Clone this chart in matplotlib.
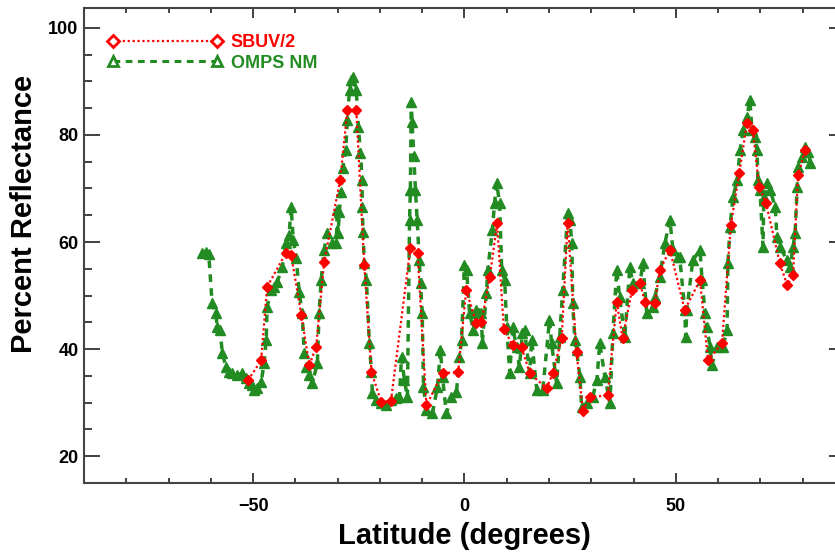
import matplotlib.pyplot as plt
from matplotlib.lines import Line2D
import numpy as np

# OMPS NM (green triangles)
omps_lat = [-62.0, -61.2, -60.5, -59.7, -58.8, -58.5, -57.8, -57.3, -56.4, -55.7,
            -55.0, -53.8, -52.6, -51.7, -50.9, -50.2, -49.8, -49.1, -48.1, -47.4,
            -46.9, -46.7, -45.7, -45.0, -44.3, -43.1, -42.2, -41.5, -41.0, -40.5,
            -39.8, -39.1, -38.4, -37.9, -37.4, -36.7, -36.0, -34.8, -34.4, -33.9,
            -33.2, -32.5, -31.3, -30.3, -30.1, -29.9, -29.6, -29.2, -28.8, -28.1,
            -27.7, -27.2, -26.8, -26.3, -25.6, -25.1, -24.6, -24.2, -24.2, -24.0,
            -23.7, -23.2, -22.5, -22.0, -21.8, -20.9, -19.7, -18.5, -17.3, -16.1,
            -15.4, -14.9, -14.2, -13.5, -13.0, -12.8, -12.6, -12.4, -12.0, -11.6,
            -11.2, -10.7, -10.4, -10.0, -9.7, -9.0, -7.6, -6.4, -5.7, -5.2,
            -4.3, -3.1, -1.9, -1.2, -0.7, 0.0, 0.5, 1.2, 2.1, 2.8,
            3.5, 4.0, 4.2, 5.2, 5.5, 6.6, 7.1, 7.6, 8.3, 8.8,
            9.5, 10.0, 10.7, 11.4, 12.3, 13.0, 13.7, 14.2, 15.4, 15.9,
            17.1, 18.5, 20.1, 20.6, 21.8, 22.5, 23.2, 24.4, 24.9, 25.4,
            25.6, 26.1, 26.5, 27.3, 27.7, 28.9, 30.3, 31.3, 32.0, 33.2,
            34.4, 35.1, 36.0, 36.7, 37.9, 39.1, 39.8, 41.5, 42.2, 43.1,
            44.5, 45.0, 46.2, 47.4, 48.6, 49.3, 50.5, 50.9, 52.1, 52.3,
            52.6, 54.0, 55.7, 56.2, 56.9, 57.3, 58.1, 58.5, 59.7, 61.1,
            62.1, 62.3, 62.8, 63.5, 64.5, 65.2, 65.9, 66.8, 67.5, 68.0,
            68.7, 69.2, 69.4, 69.9, 70.6, 70.8, 71.6, 72.3, 73.5, 73.9,
            74.6, 76.3, 77.0, 77.7, 78.2, 78.7, 78.9, 79.9, 80.6, 81.3,
            81.8]
omps_val = [58.0, 58.2, 57.8, 48.6, 46.7, 44.1, 43.6, 39.3, 36.6, 35.7,
            35.5, 35.1, 35.5, 34.6, 33.6, 33.3, 32.3, 32.7, 33.8, 37.4,
            41.7, 47.9, 51.0, 51.6, 52.5, 55.3, 59.8, 61.3, 66.5, 60.4,
            57.0, 50.7, 46.7, 39.3, 36.6, 35.1, 33.6, 37.4, 46.7, 52.9,
            58.5, 61.7, 59.8, 59.8, 66.0, 61.7, 65.6, 69.3, 73.8, 77.2,
            82.8, 88.4, 90.3, 90.8, 88.4, 81.5, 76.6, 71.6, 66.5, 61.9,
            56.0, 52.9, 41.1, 35.7, 31.8, 30.5, 29.9, 29.5, 30.5, 30.8,
            31.0, 38.5, 34.2, 31.0, 64.1, 69.7, 86.2, 82.5, 76.0, 69.7,
            64.1, 56.6, 52.3, 46.7, 32.9, 28.6, 28.0, 32.9, 39.8, 34.8,
            28.0, 31.0, 32.0, 38.5, 41.7, 55.8, 54.8, 46.7, 43.6, 47.3,
            46.7, 46.7, 41.1, 50.5, 54.8, 62.2, 67.3, 71.0, 67.3, 54.8,
            52.9, 44.1, 35.5, 44.1, 40.4, 36.6, 43.0, 43.6, 35.5, 41.7,
            32.3, 32.3, 45.4, 41.1, 33.6, 42.2, 51.0, 65.4, 64.1, 59.8,
            48.6, 41.7, 39.8, 34.8, 29.2, 29.9, 31.0, 34.2, 41.1, 34.8,
            29.9, 43.0, 54.8, 49.7, 42.2, 55.3, 52.3, 52.3, 56.0, 46.7,
            47.9, 49.7, 53.5, 59.8, 64.1, 58.5, 57.2, 57.2, 47.3, 42.2,
            47.3, 56.6, 58.5, 52.9, 46.7, 44.1, 40.4, 37.0, 40.4, 40.4,
            43.6, 56.0, 62.8, 68.4, 71.6, 77.2, 80.9, 83.4, 86.5, 80.9,
            79.6, 77.2, 71.6, 69.7, 59.1, 68.4, 71.0, 69.7, 66.5, 60.9,
            59.1, 56.6, 55.3, 59.1, 61.7, 70.3, 74.0, 75.9, 77.8, 76.8,
            74.8]

# SBUV/2 (red diamonds)
sbuv_lat = [-51.2, -48.1, -46.7, -42.2, -41.0, -38.6, -36.7, -35.1, -33.2, -29.4,
            -27.7, -25.6, -23.7, -22.0, -19.7, -17.4, -12.8, -11.1, -9.0, -5.2,
            -1.5, 0.4, 2.8, 4.0, 6.0, 7.7, 9.3, 11.4, 13.5, 15.4,
            19.4, 20.9, 23.0, 24.4, 26.5, 28.0, 29.6, 33.9, 36.0, 37.4,
            39.6, 41.5, 42.7, 45.0, 46.2, 48.6, 52.1, 55.7, 57.6, 60.9,
            63.0, 65.0, 66.8, 68.2, 69.7, 71.3, 74.6, 76.3, 77.7, 78.9,
            80.6]
sbuv_val = [34.2, 37.9, 51.6, 58.0, 57.6, 46.4, 37.0, 40.4, 56.3, 71.6,
            84.7, 84.7, 55.7, 35.7, 30.1, 30.3, 58.9, 58.0, 29.5, 35.5,
            35.7, 51.0, 44.9, 45.0, 53.5, 63.5, 43.8, 40.7, 40.4, 35.5,
            32.7, 35.5, 42.0, 63.6, 39.4, 28.5, 31.0, 31.4, 48.8, 42.0,
            51.0, 52.3, 48.8, 48.6, 54.8, 58.5, 47.3, 52.9, 37.9, 41.1,
            63.2, 72.9, 82.2, 80.9, 70.3, 67.3, 56.0, 52.0, 53.8, 72.5,
            77.2]

red = '#ff0000'
green = '#228b22'

plt.rcParams['font.family'] = 'Liberation Sans'
plt.rcParams['font.weight'] = 'bold'

fig = plt.figure(figsize=(8.35, 5.53), dpi=100)
ax = fig.add_axes([84/835, 70/553, 761/835, 475/553])

ax.plot(omps_lat, omps_val, color=green, lw=2.5, linestyle=(0, (2.2, 1.8)),
        marker='^', markersize=7.5, markerfacecolor=green, markeredgecolor=green, zorder=2)
ax.plot(sbuv_lat, sbuv_val, color=red, lw=1.6, linestyle=(0, (1, 1.2)),
        marker='D', markersize=5.5, markerfacecolor=red, markeredgecolor=red, zorder=3)

ax.set_xlim(-90, 90)
ax.set_ylim(15, 103.7)
ax.set_xticks([-50, 0, 50])
ax.set_xticks(np.arange(-90, 91, 10), minor=True)
ax.set_yticks([20, 40, 60, 80, 100])
ax.set_yticks(np.arange(15, 104, 5), minor=True)
ax.tick_params(axis='both', which='both', direction='in', top=True, right=True,
               colors='#333333', labelcolor='black', labelsize=13)
ax.tick_params(axis='x', which='major', length=7, width=1.3, pad=11)
ax.tick_params(axis='x', which='minor', length=3.6, width=1.3)
ax.tick_params(axis='y', which='major', length=11.5, width=1.3, pad=4)
ax.tick_params(axis='y', which='minor', length=5.8, width=1.3)
for s in ax.spines.values():
    s.set_linewidth(1.5)
    s.set_color('#444444')

ax.set_xlabel('Latitude (degrees)', fontsize=21, fontweight='bold')
ax.set_ylabel('Percent Reflectance', fontsize=21, fontweight='bold')
ax.xaxis.set_label_coords(0.5, -0.083)
ax.yaxis.set_label_coords(-0.06, 0.566)

handles = [
    Line2D([], [], color=red, lw=1.6, linestyle=(0, (1, 1.2)), marker='D',
           markersize=6, markerfacecolor='white', markeredgecolor=red, markeredgewidth=2),
    Line2D([], [], color=green, lw=2.2, linestyle=(0, (2.2, 1.8)), marker='^',
           markersize=7.5, markerfacecolor='white', markeredgecolor=green, markeredgewidth=2),
]
leg = ax.legend(handles, ['SBUV/2', 'OMPS NM'], loc='upper left',
                bbox_to_anchor=(0.031, 0.945), frameon=False, numpoints=2,
                handlelength=6.36, handletextpad=0.45, labelspacing=0.2,
                borderpad=0, borderaxespad=0,
                prop={'size': 13, 'weight': 'bold'})
for t, c in zip(leg.get_texts(), [red, green]):
    t.set_color(c)

fig.savefig('out.png', dpi=100)
